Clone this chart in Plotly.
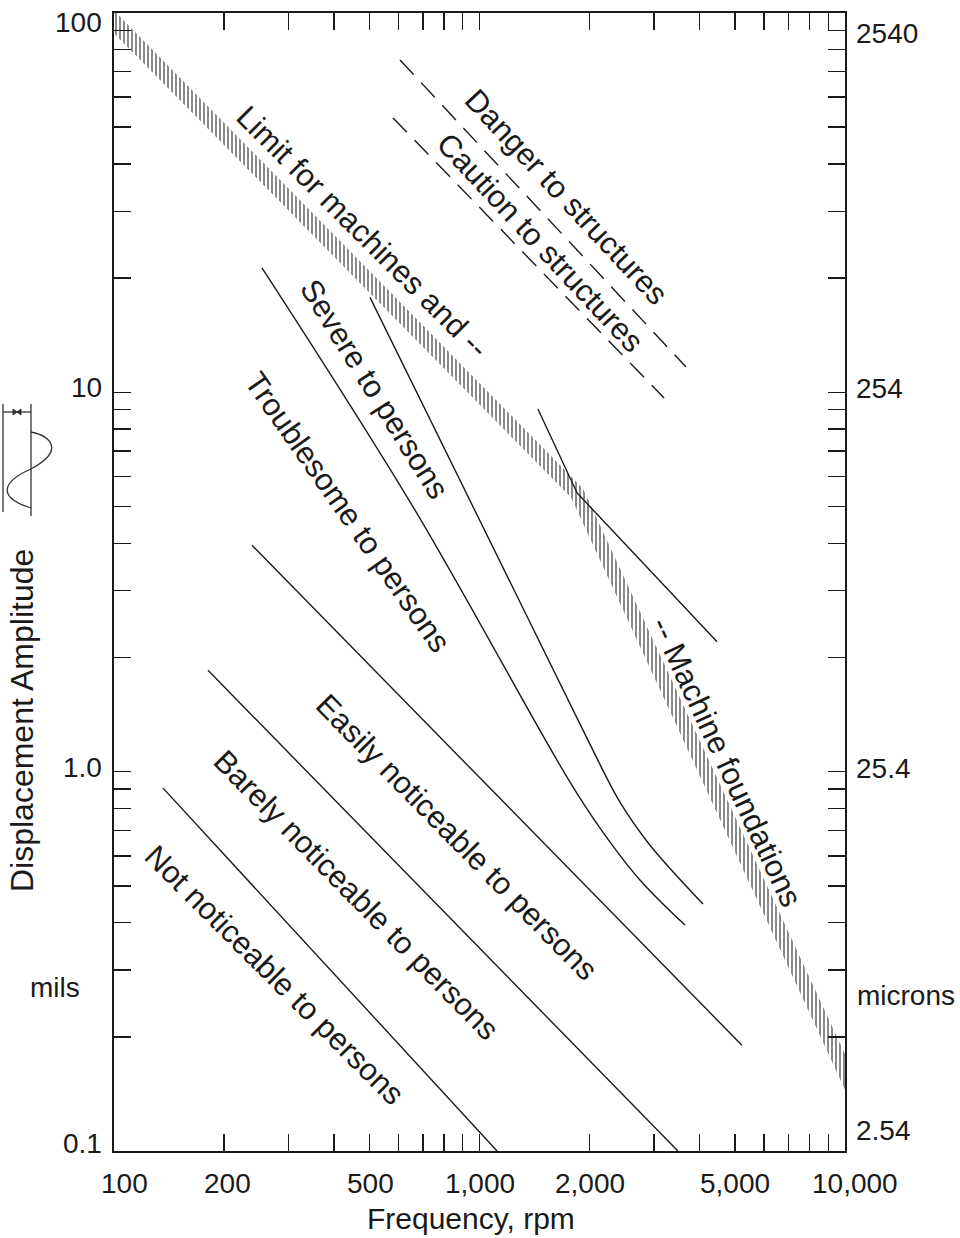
import numpy as np
import plotly.graph_objects as go

# ---------------- data (frequency in rpm, displacement in mils) ----------------
band_upper_x = [100, 1918, 10000]
band_upper_y = [101.5, 5.58, 0.180]
band_lower_x = [100, 1781, 10000]
band_lower_y = [88.5, 5.28, 0.145]

danger_x = [606, 3673]
danger_y = [75.2, 11.66]
caution_x = [580, 3198]
caution_y = [52.9, 9.66]

foundation_x = [1445, 1849, 4467]
foundation_y = [9.04, 5.43, 2.20]

severe_upper_x = [501.6, 2006, 2423, 2928, 4088]
severe_upper_y = [17.8, 1.18, 0.831, 0.640, 0.448]
severe_lower_x = [254, 658, 1735, 2137, 2748, 3649]
severe_lower_y = [21.3, 4.99, 0.968, 0.710, 0.518, 0.394]

troublesome_x = [238.6, 5224]
troublesome_y = [3.95, 0.190]
easily_x = [180.8, 3490]
easily_y = [1.85, 0.1]
barely_x = [136.2, 1117]
barely_y = [0.905, 0.1]

# zone labels: text, x (rpm), y (mils), angle
zone_text = ["Limit for machines and --", "Danger to structures", "Caution to structures",
             "Severe to persons", "Troublesome to persons", "Easily noticeable to persons",
             "Barely noticeable to persons", "Not noticeable to persons", "-- Machine foundations"]
zone_x = [477, 1735, 1464, 518, 434, 868, 462, 276, 4754]
zone_y = [26.5, 32.7, 24.8, 10.2, 4.84, 0.672, 0.473, 0.291, 1.06]
zone_angle = [45, 47, 47, 58, 55, 45.5, 45.5, 45, 65]

# axis ticks
x_ticks = [100, 200, 300, 400, 500, 600, 700, 800, 900,
           1000, 2000, 3000, 4000, 5000, 6000, 7000, 8000, 9000, 10000]
x_label_vals = [100, 200, 500, 1000, 2000, 5000, 10000]
x_label_text = ["100", "200", "500", "1,000", "2,000", "5,000", "10,000"]
y_ticks = [0.1, 0.2, 0.3, 0.4, 0.5, 0.6, 0.7, 0.8, 0.9,
           1, 2, 3, 4, 5, 6, 7, 8, 9,
           10, 20, 30, 40, 50, 60, 70, 80, 90, 100]
y_label_vals = [100, 10, 1, 0.1]
y_label_text = ["100", "10", "1.0", "0.1"]
micron_label_text = ["2540", "254", "25.4", "2.54"]

# ---------------- figure ----------------
W, H = 960, 1238
ML, MT = 114, 13
MR = W - 845
MB = H - 1151
PW, PH = W - ML - MR, H - MT - MB

def px(xp):  # page pixel -> paper x
    return (xp - ML) / PW

def py(yp):  # page pixel -> paper y
    return (H - MB - yp) / PH

FONT = "Liberation Sans, Arial, sans-serif"
INK = "#1a1a1a"

fig = go.Figure()

# hatched band
fig.add_trace(go.Scatter(
    x=band_upper_x + band_lower_x[::-1],
    y=band_upper_y + band_lower_y[::-1],
    mode="lines", line=dict(width=0), fill="toself",
    fillcolor="white",
    fillpattern=dict(shape="|", size=4, solidity=0.5, fgcolor="#151515", bgcolor="white"),
    hoverinfo="skip", showlegend=False))

def add_line(x, y, dash="solid", shape="linear"):
    fig.add_trace(go.Scatter(x=x, y=y, mode="lines",
                             line=dict(color=INK, width=1.4, dash=dash, shape=shape),
                             hoverinfo="skip", showlegend=False))

add_line(danger_x, danger_y, dash="20px,11px")
add_line(caution_x, caution_y, dash="20px,11px")
add_line(foundation_x, foundation_y)
add_line(severe_upper_x, severe_upper_y, shape="spline")
add_line(severe_lower_x, severe_lower_y, shape="spline")
add_line(troublesome_x, troublesome_y)
add_line(easily_x, easily_y)
add_line(barely_x, barely_y)

annotations = []
for t, x, y, a in zip(zone_text, zone_x, zone_y, zone_angle):
    annotations.append(dict(text=t, x=np.log10(x), y=np.log10(y), xref="x", yref="y",
                            textangle=a, showarrow=False, xanchor="center", yanchor="middle",
                            font=dict(size=31, color=INK, family=FONT)))

# left / right tick labels
left_shift = {100: -9, 10: 5, 1: 4, 0.1: 8}
right_shift = {100: -20, 10: 4, 1: 3, 0.1: 21}
for v, lt, rt in zip(y_label_vals, y_label_text, micron_label_text):
    annotations.append(dict(text=lt, x=0, xref="paper", y=np.log10(v), yref="y",
                            xanchor="right", yanchor="middle", xshift=-10, yshift=left_shift[v],
                            showarrow=False, font=dict(size=28, color=INK, family=FONT)))
    annotations.append(dict(text=rt, x=1, xref="paper", y=np.log10(v), yref="y",
                            xanchor="left", yanchor="middle", xshift=9, yshift=right_shift[v],
                            showarrow=False, font=dict(size=28, color=INK, family=FONT)))

bottom_shift = {100: 10, 200: 3, 500: 1, 1000: 0, 2000: 0, 5000: 0, 10000: 10}
for v, t in zip(x_label_vals, x_label_text):
    annotations.append(dict(text=t, x=np.log10(v), xref="x", y=0, yref="paper",
                            xanchor="center", yanchor="middle", xshift=bottom_shift[v], yshift=-32,
                            showarrow=False, font=dict(size=28, color=INK, family=FONT)))

# titles
annotations.append(dict(text="Frequency, rpm", x=px(471), y=py(1218), xref="paper", yref="paper",
                        xanchor="center", yanchor="middle", showarrow=False,
                        font=dict(size=30, color=INK, family=FONT)))
annotations.append(dict(text="Displacement Amplitude", x=px(22), y=py(721), xref="paper", yref="paper",
                        xanchor="center", yanchor="middle", showarrow=False, textangle=-90,
                        font=dict(size=32, color=INK, family=FONT)))
annotations.append(dict(text="mils", x=px(55), y=py(987), xref="paper", yref="paper",
                        xanchor="center", yanchor="middle", showarrow=False,
                        font=dict(size=28, color=INK, family=FONT)))
annotations.append(dict(text="microns", x=px(906), y=py(995), xref="paper", yref="paper",
                        xanchor="center", yanchor="middle", showarrow=False,
                        font=dict(size=28, color=INK, family=FONT)))

# small displacement icon (decoration)
shapes = []
icon = dict(xref="paper", yref="paper", line=dict(color="#333", width=1.3))
shapes.append(dict(type="line", x0=px(3), x1=px(3), y0=py(404), y1=py(512), **icon))
shapes.append(dict(type="line", x0=px(31), x1=px(31), y0=py(404), y1=py(516), **icon))
shapes.append(dict(type="line", x0=px(3), x1=px(31), y0=py(412), y1=py(412), **icon))
for (ax, bx) in [(3, 17), (31, 17)]:
    d = 4 if bx > ax else -4
    shapes.append(dict(type="path", xref="paper", yref="paper",
                       path=f"M {px(bx)},{py(412)} L {px(bx - d)},{py(409)} L {px(bx - d)},{py(415)} Z",
                       fillcolor="#333", line=dict(color="#333", width=1)))
sine = (f"M {px(31)},{py(432)} C {px(50)},{py(436)} {px(66)},{py(450)} {px(31)},{py(469)} "
        f"C {px(10)},{py(478)} {px(-10)},{py(495)} {px(31)},{py(508)}")
shapes.append(dict(type="path", xref="paper", yref="paper", path=sine,
                   line=dict(color="#333", width=1.3)))

axis_common = dict(type="log", showgrid=False, zeroline=False, showline=True, linecolor=INK,
                   linewidth=1.6, mirror="allticks", ticks="inside", ticklen=17, tickwidth=1.4,
                   tickcolor=INK, showticklabels=False, tickmode="array")

fig.update_layout(
    width=W, height=H,
    margin=dict(l=ML, r=MR, t=MT, b=MB, pad=0),
    paper_bgcolor="white", plot_bgcolor="white",
    xaxis=dict(range=[2, 4], tickvals=x_ticks, **axis_common),
    yaxis=dict(range=[-1, 2], tickvals=y_ticks, **axis_common),
    annotations=annotations, shapes=shapes,
    showlegend=False,
)

fig.write_html("out.html",
               config={"displayModeBar": False, "staticPlot": True},
               post_script="document.body.style.margin='0';document.body.style.overflow='hidden';")
